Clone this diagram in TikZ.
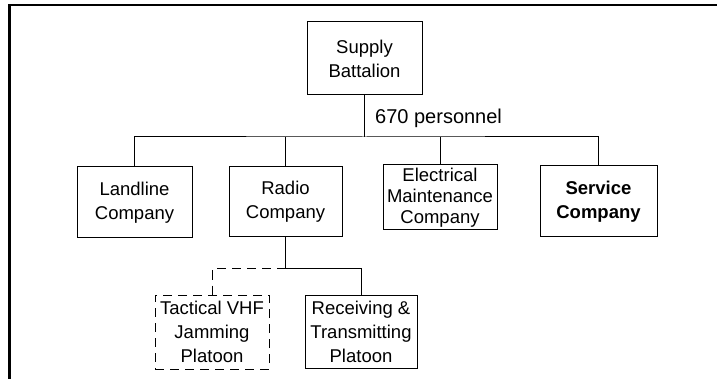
\documentclass[tikz,border=0pt]{standalone}
\usepackage{fontspec}
\setmainfont{Liberation Sans}
\begin{document}
\begin{tikzpicture}[x=1pt,y=-1pt,
  every node/.style={font=\fontsize{18.5}{24}\selectfont},
  unit/.style={draw, line width=1pt, align=center, inner sep=0pt},
  dashunit/.style={unit, dash pattern=on 9pt off 6pt},
  link/.style={line width=1pt},
  dashlink/.style={line width=1pt, dash pattern=on 9pt off 6pt},
  frame/.style={line width=2.6pt}]
\useasboundingbox (0,0) rectangle (717,379);
\coordinate (fright) at (717,5);
\coordinate (fbot) at (9.3,379);
\draw[frame] (fright) -- (9.3,5) -- (fbot);

\node[unit, minimum width=115pt, minimum height=73pt] (supply) at (364.5,58.5) {Supply\\Battalion};
\node[unit, minimum width=115pt, minimum height=71pt] (landline) at (134.5,202.5) {Landline\\Company};
\node[unit, minimum width=113pt, minimum height=70pt] (radio) at (285.5,202) {Radio\\Company};
\node[unit, minimum width=114pt, minimum height=65pt, font=\fontsize{18.5}{21}\selectfont] (elec) at (440,197.5) {Electrical\\Maintenance\\Company};
\node[unit, minimum width=117pt, minimum height=71pt] (service) at (598.5,201.5) {\textbf{Service}\\\textbf{Company}};
\node[dashunit, minimum width=114pt, minimum height=74pt] (tactical) at (212,332) {Tactical VHF\\Jamming\\Platoon};
\node[unit, minimum width=112pt, minimum height=73pt] (receiving) at (361,331.5) {Receiving \&\\Transmitting\\Platoon};

\node[anchor=west, inner sep=0pt, font=\fontsize{20}{24}\selectfont] (pers) at (375,118) {670 personnel};

\coordinate (bus) at (364.5,137);
\coordinate (sub) at (285.5,269);

\draw[link] (supply.south) -- (bus);
\draw[link] (landline.north) |- (bus) -| (service.north);
\draw[link] (radio.north) -- (radio.north |- bus);
\draw[link] (elec.north) -- (elec.north |- bus);

\draw[link] (radio.south) -- (sub) -| (receiving.north);
\draw[dashlink] (sub) -| (tactical.north);
\end{tikzpicture}
\end{document}
